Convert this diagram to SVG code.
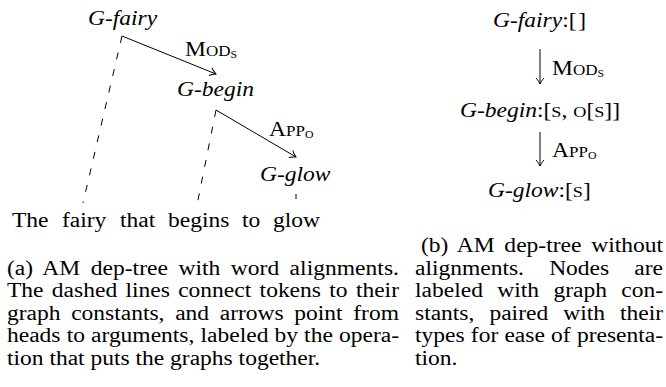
<svg xmlns="http://www.w3.org/2000/svg" width="666" height="387" viewBox="0 0 666 387">
<defs>
<style>
.t{font-family:"Liberation Serif","Times New Roman",serif;font-size:20px;fill:#000}
.it{font-style:italic}
.sc{font-size:14.5px}
.tsc{font-size:15.5px}
.sub{font-size:10px}
.edge{stroke:#000;stroke-width:1;fill:none}
.dash{stroke:#000;stroke-width:1;fill:none;stroke-dasharray:7 10}
</style>
<marker id="arr" markerUnits="userSpaceOnUse" markerWidth="12" markerHeight="12" viewBox="-8 -6 10 12" refX="0" refY="0" orient="auto" overflow="visible">
<path d="M-6,-4 C-4,-2 -1,-0.5 0,0 C-1,0.5 -4,2 -6,4" fill="none" stroke="#000" stroke-width="1"/>
</marker>
</defs>
<rect width="666" height="387" fill="#fff"/>

<g id="connectors">
<line class="edge" x1="122" y1="36" x2="216" y2="74" marker-end="url(#arr)"/>
<line class="edge" x1="216" y1="110" x2="296" y2="157" marker-end="url(#arr)"/>
<line class="dash" x1="122" y1="36" x2="83" y2="203"/>
<line class="dash" x1="216" y1="110" x2="197" y2="205"/>
<line class="dash" x1="296" y1="194" x2="296" y2="199"/>
<text class="t" transform="translate(185 56) scale(1.175 1)">M<tspan class="sc">OD</tspan><tspan class="sub" dy="2">S</tspan></text>
<text class="t" transform="translate(269 136) scale(1.175 1)">A<tspan class="sc">PP</tspan><tspan class="sub" dy="2">O</tspan></text>
<line class="edge" x1="540" y1="49" x2="540" y2="84" marker-end="url(#arr)"/>
<line class="edge" x1="540" y1="132" x2="540" y2="166" marker-end="url(#arr)"/>
<text class="t" transform="translate(552 75) scale(1.175 1)">M<tspan class="sc">OD</tspan><tspan class="sub" dy="2">S</tspan></text>
<text class="t" transform="translate(552 157) scale(1.175 1)">A<tspan class="sc">PP</tspan><tspan class="sub" dy="2">O</tspan></text>
</g>

<g id="a-fairy"><text class="t it" transform="translate(88 25) scale(1.175 1)">G-fairy</text></g>
<g id="a-begin"><text class="t it" transform="translate(177 95.5) scale(1.175 1)">G-begin</text></g>
<g id="a-glow"><text class="t it" transform="translate(260 181) scale(1.175 1)">G-glow</text></g>

<g id="sentence">
<text class="t" transform="translate(12 227) scale(1.175 1)">The</text>
<text class="t" transform="translate(62 227) scale(1.175 1)">fairy</text>
<text class="t" transform="translate(120 227) scale(1.175 1)">that</text>
<text class="t" transform="translate(168 227) scale(1.175 1)">begins</text>
<text class="t" transform="translate(242 227) scale(1.175 1)">to</text>
<text class="t" transform="translate(273 227) scale(1.175 1)">glow</text>
</g>

<g id="b-fairy"><text class="t" transform="translate(493 27) scale(1.175 1)"><tspan class="it">G-fairy</tspan>:[<tspan dx="1.5">]</tspan></text></g>
<g id="b-begin"><text class="t" transform="translate(460 117) scale(1.175 1)"><tspan class="it">G-begin</tspan>:[<tspan class="tsc">S</tspan>, <tspan class="tsc">O</tspan>[<tspan class="tsc">S</tspan>]]</text></g>
<g id="b-glow"><text class="t" transform="translate(488 197) scale(1.175 1)"><tspan class="it">G-glow</tspan>:[<tspan class="tsc">S</tspan>]</text></g>

<g id="caption-a">
<text class="t" transform="translate(7 274.5) scale(1.175 1)" word-spacing="3.85" textLength="333.6" lengthAdjust="spacing">(a) AM dep-tree with word alignments.</text>
<text class="t" transform="translate(7 297) scale(1.175 1)" word-spacing="2.1" textLength="333.6" lengthAdjust="spacing">The dashed lines connect tokens to their</text>
<text class="t" transform="translate(7 319.5) scale(1.175 1)" word-spacing="4.07" textLength="333.6" lengthAdjust="spacing">graph constants, and arrows point from</text>
<text class="t" transform="translate(7 342) scale(1.175 1)" word-spacing="0.2" textLength="333.6" lengthAdjust="spacing">heads to arguments, labeled by the opera-</text>
<text class="t" transform="translate(7 364.5) scale(1.175 1)">tion that puts the graphs together.</text>
</g>

<g id="caption-b">
<text class="t" transform="translate(421 252) scale(1.175 1)" word-spacing="3.2" textLength="206" lengthAdjust="spacing">(b) AM dep-tree without</text>
<text class="t" transform="translate(415 274.5) scale(1.175 1)" word-spacing="16.4" textLength="211.1" lengthAdjust="spacing">alignments. Nodes are</text>
<text class="t" transform="translate(415 297) scale(1.175 1)" word-spacing="7.2" textLength="211.1" lengthAdjust="spacing">labeled with graph con-</text>
<text class="t" transform="translate(415 319.5) scale(1.175 1)" word-spacing="7.8" textLength="211.1" lengthAdjust="spacing">stants, paired with their</text>
<text class="t" transform="translate(415 342) scale(1.175 1)" word-spacing="0.3" textLength="211.1" lengthAdjust="spacing">types for ease of presenta-</text>
<text class="t" transform="translate(415 364.5) scale(1.175 1)">tion.</text>
</g>
</svg>
